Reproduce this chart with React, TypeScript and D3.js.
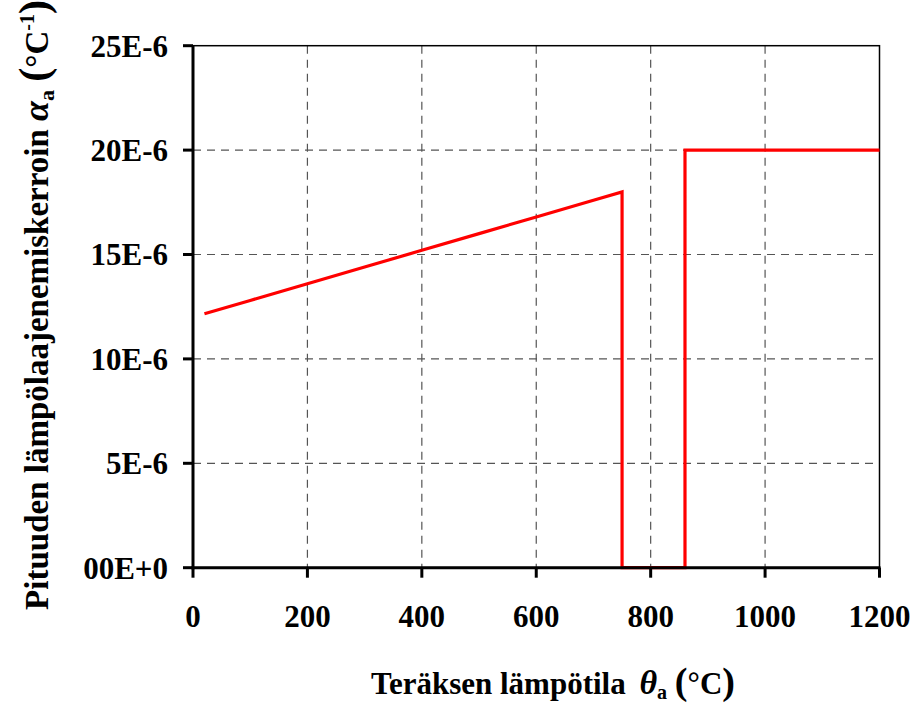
import React from "react";
import * as d3 from "d3";

const temps = [20, 100, 200, 300, 400, 500, 600, 700, 750, 750, 860, 860, 1200];
const alphaE6 = [12.16, 12.8, 13.6, 14.4, 15.2, 16.0, 16.8, 17.6, 18.0, 0, 0, 20, 20];
const xTicks = [0, 200, 400, 600, 800, 1000, 1200];
const yTicks = [0, 5, 10, 15, 20, 25];
const yTickLabels = ["00E+0", "5E-6", "10E-6", "15E-6", "20E-6", "25E-6"];

const W = 913, H = 706;
const L = 193, R = 879.5, T = 45.7, B = 567.7;
const font = "'Liberation Serif', 'Times New Roman', serif";

export default function App() {
  const x = d3.scaleLinear().domain([0, 1200]).range([L, R]);
  const y = d3.scaleLinear().domain([0, 25]).range([B, T]);
  const pts: [number, number][] = temps.map((t, i) => [t, alphaE6[i]]);
  const line = d3.line<[number, number]>().x(d => x(d[0])).y(d => y(d[1]));
  return (
    <svg width={W} height={H} style={{ position: "absolute", left: 0, top: 0 }}>
      <rect x={0} y={0} width={W} height={H} fill="#fff" />
      {xTicks.slice(1, -1).map(t => (
        <line key={"gx" + t} x1={x(t)} x2={x(t)} y1={T} y2={B} stroke="#555" strokeWidth={1.2} strokeDasharray="8,6" />
      ))}
      {yTicks.slice(1, -1).map(t => (
        <line key={"gy" + t} x1={L} x2={R} y1={y(t)} y2={y(t)} stroke="#555" strokeWidth={1.2} strokeDasharray="8,6" />
      ))}
      <rect x={L} y={T} width={R - L} height={B - T} fill="none" stroke="#000" strokeWidth={1.5} />
      <path d={line(pts) || ""} fill="none" stroke="#ff0000" strokeWidth={3.2} strokeLinejoin="miter" />
      <line x1={L} x2={L} y1={T} y2={B + 1.5} stroke="#000" strokeWidth={3} />
      <line x1={L - 1.5} x2={R + 1} y1={B} y2={B} stroke="#000" strokeWidth={3} />
      {yTicks.map(t => (
        <line key={"ty" + t} x1={L - 10} x2={L} y1={y(t)} y2={y(t)} stroke="#000" strokeWidth={3} />
      ))}
      {xTicks.map(t => (
        <line key={"tx" + t} x1={x(t)} x2={x(t)} y1={B} y2={B + 10} stroke="#000" strokeWidth={3} />
      ))}
      {yTicks.map((t, i) => (
        <text key={"ly" + t} x={168} y={y(t)} dy="0.35em" textAnchor="end" fontFamily={font} fontWeight="bold" fontSize={31}>
          {yTickLabels[i]}
        </text>
      ))}
      {xTicks.map(t => (
        <text key={"lx" + t} x={x(t)} y={627} textAnchor="middle" fontFamily={font} fontWeight="bold" fontSize={31}>
          {t}
        </text>
      ))}
      <text x={553} y={694} textAnchor="middle" fontFamily={font} fontWeight="bold" fontSize={31}>
        <tspan>Teräksen lämpötila </tspan>
        <tspan fontStyle="italic" fontSize={34} dx={6}>θ</tspan>
        <tspan fontSize={20} dy={5}>a</tspan>
        <tspan dy={-5} fontSize={31}> </tspan>
        <tspan fontSize={38}>(</tspan>
        <tspan>°C</tspan>
        <tspan fontSize={38}>)</tspan>
      </text>
      <text transform="translate(48,305) rotate(-90)" textAnchor="middle" fontFamily={font} fontWeight="bold" fontSize={33}>
        <tspan>Pituuden lämpölaajenemiskerroin </tspan>
        <tspan fontStyle="italic" fontSize={36}>α</tspan>
        <tspan fontSize={22} dy={6}>a</tspan>
        <tspan dy={-6}> </tspan>
        <tspan fontSize={42}>(</tspan>
        <tspan>°C</tspan>
        <tspan fontSize={20} dy={-14}>-1</tspan>
        <tspan fontSize={42} dy={14}>)</tspan>
      </text>
    </svg>
  );
}
